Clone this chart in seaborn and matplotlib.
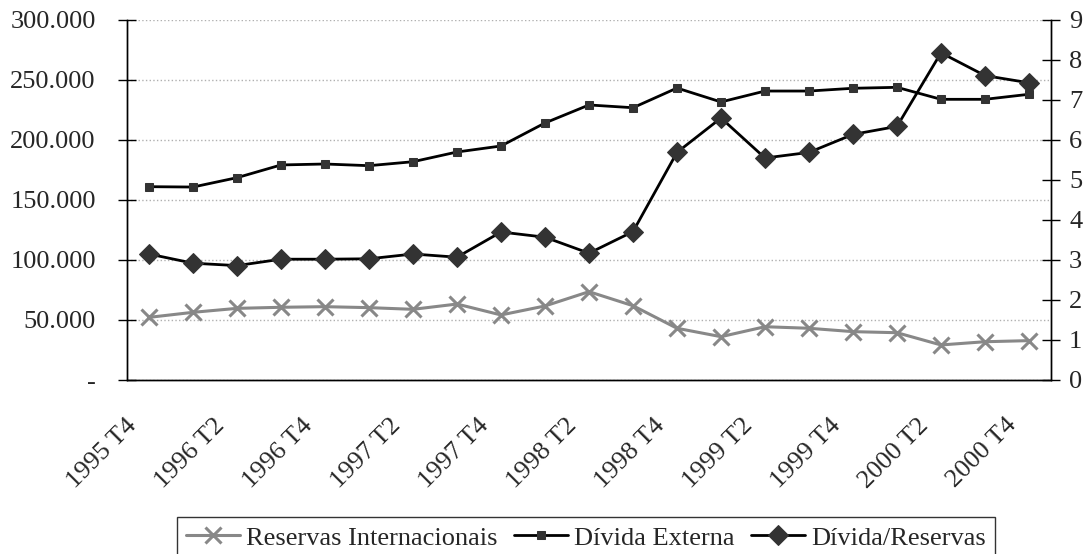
import matplotlib
matplotlib.use("Agg")
import matplotlib.pyplot as plt
import matplotlib.ticker as mticker
import matplotlib.transforms as mtransforms
import numpy as np
import pandas as pd
import seaborn as sns

# quarters 1995 T4 .. 2000 T4
quarters = ["1995 T4"] + [f"{y} T{q}" for y in range(1996, 2001) for q in range(1, 5)]

# reservas internacionais (US$ milhoes)
reservas = [52.2, 56.4, 59.7, 60.6, 61.1, 60.3, 58.9, 63.3, 54.2, 61.7, 73.6,
            61.9, 43.1, 36.1, 44.4, 43.1, 40.3, 39.4, 29.2, 31.9, 32.8]
# divida externa (US$ milhoes)
divida = [161.1, 160.8, 168.6, 179.2, 180.0, 178.6, 181.9, 190.0, 195.0, 214.2, 229.2,
          226.9, 243.3, 231.7, 240.8, 240.8, 243.1, 243.9, 233.9, 233.9, 238.1]
# divida / reservas (eixo direito)
razao = [3.15, 2.92, 2.86, 3.02, 3.02, 3.03, 3.15, 3.07, 3.70, 3.57, 3.17,
         3.71, 5.69, 6.55, 5.55, 5.69, 6.14, 6.34, 8.18, 7.61, 7.43]

df = pd.DataFrame({
    "x": np.arange(len(quarters)),
    "reservas": np.array(reservas) * 1000,
    "divida": np.array(divida) * 1000,
    "razao": razao,
})

sns.set_style("white")
plt.rcParams["font.family"] = ["Liberation Serif", "DejaVu Serif"]
plt.rcParams["font.size"] = 19

fig = plt.figure(figsize=(10.88, 5.54), dpi=100)
ax = fig.add_axes([127 / 1088, 1 - 380 / 554, 924 / 1088, 360 / 554])
ax2 = ax.twinx()

sns.lineplot(data=df, x="x", y="reservas", ax=ax, color="#888888", lw=2.2,
             marker="x", markersize=11, markeredgewidth=2.2, markeredgecolor="#888888",
             label="Reservas Internacionais", legend=False)
sns.lineplot(data=df, x="x", y="divida", ax=ax, color="black", lw=2,
             marker="s", markersize=6, markerfacecolor="#333333", markeredgecolor="#333333",
             label="Dívida Externa", legend=False)
sns.lineplot(data=df, x="x", y="razao", ax=ax2, color="black", lw=2,
             marker="D", markersize=10, markerfacecolor="#333333", markeredgecolor="#333333",
             label="Dívida/Reservas", legend=False)

ax.set_xlim(-0.5, len(quarters) - 0.5)
ax.set_ylim(0, 300000)
ax2.set_ylim(0, 9)

ax.set_yticks(np.arange(0, 300001, 50000))
ax.yaxis.set_major_formatter(mticker.FuncFormatter(
    lambda v, p: "-" if v == 0 else f"{int(v):,}".replace(",", ".")))
ax2.set_yticks(np.arange(0, 10, 1))

ax.set_xticks(np.arange(-0.5, len(quarters), 1))
ax.set_xticklabels([])
ax.set_xticks(np.arange(0, len(quarters), 2), minor=True)
ax.set_xticklabels(quarters[::2], minor=True, rotation=45, ha="right", va="center",
                   rotation_mode="anchor")
ax.tick_params(axis="x", which="major", direction="inout", length=13, width=1, color="black")
ax.tick_params(axis="x", which="minor", length=0, pad=0)
ax.tick_params(axis="y", direction="inout", length=13, width=1, color="black", pad=16)
ax2.tick_params(axis="y", direction="inout", length=13, width=1, color="black", pad=6.5)

# shift the slanted labels like the original (down and a little left)
offset = mtransforms.ScaledTranslation(-16 / 100, -42 / 100, fig.dpi_scale_trans)
for lab in ax.get_xticklabels(minor=True):
    lab.set_transform(lab.get_transform() + offset)

ax.grid(axis="y", color="#b0b0b0", linestyle=":", lw=1)
ax.set_axisbelow(True)
ax.set_xlabel("")
ax.set_ylabel("")
ax2.set_ylabel("")
for a in (ax, ax2):
    a.spines["top"].set_visible(False)
    for s in ("left", "right", "bottom"):
        a.spines[s].set_color("black")
        a.spines[s].set_linewidth(1)

h1, l1 = ax.get_legend_handles_labels()
h2, l2 = ax2.get_legend_handles_labels()
leg = fig.legend(h1 + h2, l1 + l2, loc="upper center", ncol=3,
                 bbox_to_anchor=(586 / 1088, 1 - 517 / 554), frameon=True, fancybox=False,
                 edgecolor="black", handlelength=2.05, columnspacing=0.6,
                 handletextpad=0.25, borderpad=0.35, borderaxespad=0, fontsize=19)
leg.get_frame().set_linewidth(1)

fig.savefig("out.png", dpi=100)
